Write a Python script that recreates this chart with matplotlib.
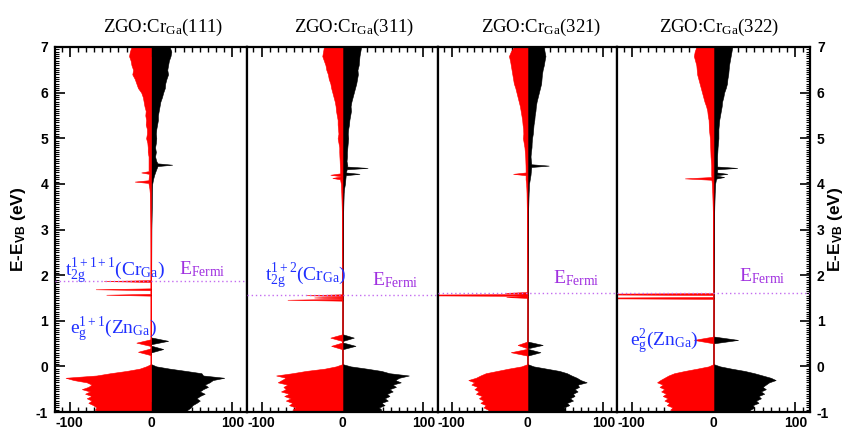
import numpy as np
import matplotlib
matplotlib.use("Agg")
import matplotlib.pyplot as plt
from matplotlib.ticker import MultipleLocator

plt.rcParams['font.family'] = ['Liberation Sans', 'DejaVu Sans']
plt.rcParams['axes.unicode_minus'] = False
plt.rcParams['mathtext.fontset'] = 'custom'
plt.rcParams['mathtext.rm'] = 'Liberation Serif'
plt.rcParams['mathtext.it'] = 'Liberation Serif:italic'
plt.rcParams['mathtext.bf'] = 'Liberation Sans:bold'

# panel names and fermi levels (eV)
panels = ["111", "311", "321", "322"]
e_fermi = [1.87, 1.56, 1.60, 1.60]

# energy grid, valence band top and upper band region
e_vb = [-1.0, -0.95, -0.9, -0.85, -0.8, -0.75, -0.7, -0.65, -0.6, -0.55, -0.5,
        -0.45, -0.4, -0.35, -0.3, -0.25, -0.2, -0.15, -0.1, -0.05, 0.0, 0.05]
e_cb = [3.0, 3.5, 3.8, 3.9, 4.0, 4.1, 4.2, 4.3, 4.4, 4.5, 4.6, 4.7, 4.8, 4.9,
        5.0, 5.1, 5.2, 5.3, 5.4, 5.5, 5.6, 5.7, 5.8, 5.9, 6.0, 6.1, 6.2, 6.3,
        6.4, 6.5, 6.6, 6.7, 6.8, 6.9, 7.0]

# spin up (black, positive)
vb_up_111 = [43, 45, 49, 51, 56, 60, 56, 60, 66, 60, 64, 70, 66, 72, 76, 90, 64, 62, 43, 23, 6.5, 0]
vb_up_311 = [42, 48, 45, 52, 48, 56, 52, 58, 55, 62, 58, 66, 62, 72, 65, 70, 82, 58, 48, 30, 10, 0]
vb_up_321 = [45, 50, 48, 55, 52, 60, 56, 62, 60, 66, 62, 68, 66, 78, 70, 65, 58, 52, 42, 25, 8, 0]
vb_up_322 = [42, 45, 50, 48, 55, 52, 58, 55, 62, 58, 64, 60, 64, 68, 76, 70, 60, 50, 38, 22, 8, 0]

cb_up_111 = [0.5, 1, 1.2, 1.3, 1.5, 2.5, 4, 6, 8, 6.5, 5, 6, 5, 6, 6.5, 6, 6.5, 7.5,
             8.5, 8.5, 9.5, 10.5, 11.5, 13.5, 15, 17, 17.5, 19, 21, 20, 21, 22, 24, 25, 23]
cb_up_311 = [0.5, 1, 1.5, 2, 3, 3.5, 4, 5, 6, 5, 5.5, 5.5, 6, 6.5, 7, 6.5, 7, 8,
             8.5, 9.5, 10.5, 10, 11, 12.5, 14, 15.5, 17, 18, 19, 18.5, 20, 20.5, 21, 22, 23]
cb_up_321 = [0.5, 1, 1.5, 1.8, 2, 3, 4, 4.5, 5, 4.5, 4, 4.5, 5.3, 5.5, 6, 7, 7.5, 8,
             9, 9.5, 10.5, 11, 12, 13.5, 15, 16.5, 18, 18.5, 19, 20, 21.5, 22.5, 23.7, 22.5, 21.5]
cb_up_322 = [0.5, 1, 1.5, 1.8, 2, 3, 4, 4.5, 4.5, 4.4, 4.4, 4.7, 5, 5.5, 6, 6, 6, 6.5,
             7, 8, 9, 10, 10.5, 12, 13, 15, 16.5, 17, 18, 18.5, 19, 20, 21, 22, 23]

# spin down (red, negative)
vb_dn_111 = [-63, -69, -67, -71, -77, -73, -79, -73, -81, -75, -85, -77, -73, -79, -95, -105, -67, -50, -30, -14, -6, 0]
vb_dn_311 = [-55, -62, -58, -66, -62, -70, -64, -72, -66, -76, -70, -73, -68, -80, -75, -70, -82, -62, -45, -22, -8, 0]
vb_dn_321 = [-50, -52, -58, -55, -62, -58, -64, -60, -68, -64, -70, -66, -74, -70, -78, -68, -62, -55, -40, -25, -8, 0]
vb_dn_322 = [-48, -53, -50, -57, -54, -60, -56, -62, -58, -64, -60, -66, -62, -69, -65, -60, -55, -48, -35, -20, -6, 0]

cb_dn_111 = [-0.5, -1, -1.5, -2, -3, -3, -2.5, -3, -3, -3, -3, -4, -4, -4.5, -6, -5, -5, -6.5,
             -6, -7, -6.5, -8, -9, -10, -12, -16, -18, -20, -23, -22, -24, -25, -27, -26, -24]
cb_dn_311 = [-0.5, -1, -1.5, -1.8, -2, -3, -3, -3, -3.3, -3.5, -3.8, -4, -4, -5, -6, -5, -5.5, -6,
             -6, -7, -8, -8.5, -9.5, -11, -12.5, -14, -15, -17, -18, -20, -21, -23, -25, -24, -23]
cb_dn_321 = [-0.5, -1, -1.3, -1.5, -1.8, -2.5, -2.5, -2.5, -2.6, -2.8, -3, -3.5, -4, -5, -6, -5.5, -5.7, -6.5,
             -7, -8, -9, -10, -11.5, -13, -14.5, -16, -18, -19, -20, -21, -22, -23, -24.5, -22, -18]
cb_dn_322 = [-0.5, -1, -1.5, -1.8, -2, -2.5, -2.8, -2.8, -2.8, -3.2, -3.6, -3.8, -4, -4.2, -4.4, -5, -5.6, -5.8,
             -6, -7, -7.6, -9, -11, -12.5, -14, -15.5, -17, -18.5, -20, -20.5, -21, -22.5, -24, -23, -21]

# sharp peaks (energy, dos)
peaks_up_111 = [(0.56, 21), (0.38, 15), (4.42, 26)]
peaks_up_311 = [(0.63, 14), (0.45, 16), (4.35, 31), (4.22, 21)]
peaks_up_321 = [(0.47, 20), (0.31, 17), (4.40, 28)]
peaks_up_322 = [(0.58, 30), (4.35, 29), (4.22, 17), (4.15, 13)]

peaks_dn_111 = [(0.52, -18), (0.32, -16), (1.87, -58), (1.69, -68), (1.57, -55), (4.25, -12), (4.05, -20)]
peaks_dn_311 = [(0.63, -15), (0.45, -14), (1.56, -45), (1.51, -35), (1.46, -68), (4.20, -15), (4.13, -12.5)]
peaks_dn_321 = [(0.47, -13), (0.31, -22), (1.61, -30), (1.565, -250), (1.52, -28), (4.22, -19)]
peaks_dn_322 = [(0.58, -24), (1.585, -250), (1.50, -250), (4.12, -35)]

# annotation text per panel
state_labels = [
    [(-106, 2.0, r"$\mathrm{t}_{\mathrm{2g}}^{\mathrm{1+1+1}}$(Cr$_{\mathrm{Ga}}$)"),
     (-100, 0.72, r"$\mathrm{e}_{\mathrm{g}}^{\mathrm{1+1}}$(Zn$_{\mathrm{Ga}}$)")],
    [(-96, 1.87, r"$\mathrm{t}_{\mathrm{2g}}^{\mathrm{1+2}}$(Cr$_{\mathrm{Ga}}$)")],
    [],
    [(-102, 0.46, r"$\mathrm{e}_{\mathrm{g}}^{\mathrm{2}}$(Zn$_{\mathrm{Ga}}$)")],
]
fermi_label_pos = [(35, 2.01), (37, 1.78), (34, 1.82), (31, 1.87)]

x_ticks = [-100, 0, 100]
x_tick_labels = ["-100", "0", "100"]
y_ticks = [-1, 0, 1, 2, 3, 4, 5, 6, 7]
y_tick_labels = ["-1", "0", "1", "2", "3", "4", "5", "6", "7"]


def build(e_bg, v_bg, peaks):
    e_bg = np.asarray(e_bg, dtype=float)
    v_bg = np.asarray(v_bg, dtype=float)
    keep = np.ones(len(e_bg), dtype=bool)
    ee, vv = [], []
    for c, h in peaks:
        if c < 1:
            hw = 0.075
        elif c < 3:
            hw = 0.02
        else:
            hw = 0.03
        keep &= ~(np.abs(e_bg - c) < hw)
        base = v_bg[np.argmin(np.abs(e_bg - c))] if c > 3 else 0.0
        ee += [c - hw, c, c + hw]
        vv += [base, h, base]
    e = np.concatenate([e_bg[keep], ee])
    v = np.concatenate([v_bg[keep], vv])
    order = np.argsort(e, kind="stable")
    return e[order], v[order]


up_data = [(vb_up_111, cb_up_111, peaks_up_111), (vb_up_311, cb_up_311, peaks_up_311),
           (vb_up_321, cb_up_321, peaks_up_321), (vb_up_322, cb_up_322, peaks_up_322)]
dn_data = [(vb_dn_111, cb_dn_111, peaks_dn_111), (vb_dn_311, cb_dn_311, peaks_dn_311),
           (vb_dn_321, cb_dn_321, peaks_dn_321), (vb_dn_322, cb_dn_322, peaks_dn_322)]

fig = plt.figure(figsize=(8.44, 4.29), dpi=100)
gs = fig.add_gridspec(1, 4, width_ratios=[192, 191, 179, 193], left=55 / 844, right=810 / 844,
                      top=1 - 47 / 429, bottom=1 - 412 / 429, wspace=0)
title_x = [0.565, 0.56, 0.575, 0.528]

e_all = e_vb + e_cb
for i in range(4):
    ax = fig.add_subplot(gs[0, i])
    vb, cb, pk = up_data[i]
    eu, du = build(e_all, vb + cb, pk)
    vb, cb, pk = dn_data[i]
    ed, dd = build(e_all, vb + cb, pk)

    ax.axvline(0, color="#ff7070", lw=1.3, zorder=1)
    ax.fill_betweenx(eu, 0, du, color="black", lw=0.4, zorder=2)
    ax.fill_betweenx(ed, 0, dd, color="red", lw=0.4, zorder=2)
    ax.axhline(e_fermi[i], color="#c46cf0", ls=(0, (1, 2)), lw=1.0, zorder=3)

    ax.set_xlim(-118, 118)
    ax.set_ylim(-1, 7)
    ax.set_xticks(x_ticks)
    ax.set_xticklabels(x_tick_labels, fontweight="bold", fontsize=10)
    ax.xaxis.set_minor_locator(MultipleLocator(10))
    ax.tick_params(axis="x", which="both", direction="in", top=True, bottom=True)
    ax.tick_params(axis="x", which="major", length=7, width=1.2, pad=3)
    ax.tick_params(axis="x", which="minor", length=3.5, width=1)
    ax.tick_params(axis="y", which="both", left=False, right=False, labelleft=False, labelright=False)
    for sp in ax.spines.values():
        sp.set_linewidth(1.6)

    ax.set_title("ZGO:Cr$_{\\mathrm{Ga}}$(" + panels[i] + ")", fontfamily="Liberation Serif",
                 fontsize=13.5, x=title_x[i], pad=10.8)

    for tx, ty, s in state_labels[i]:
        ax.text(tx, ty, s, color="#2030ff", fontsize=14, fontfamily="Liberation Serif",
                ha="left", va="baseline", zorder=4)
    fx, fy = fermi_label_pos[i]
    ax.text(fx, fy, r"$\mathrm{E}_{\mathrm{Fermi}}$", color="#a030e0", fontsize=14,
            ha="left", va="baseline", zorder=4)

    if i == 0 or i == 3:
        ax.set_yticks(y_ticks)
        ax.set_yticklabels(y_tick_labels, fontweight="bold", fontsize=10)
        ax.yaxis.set_minor_locator(MultipleLocator(0.05))
        ax.set_ylabel(r"E-E$_{\mathbf{VB}}$ (eV)", fontweight="bold", fontsize=12.5)
    if i == 0:
        ax.tick_params(axis="y", which="both", direction="in", left=True, labelleft=True)
        ax.tick_params(axis="y", which="major", length=7, width=1.2, pad=5)
        ax.tick_params(axis="y", which="minor", length=3, width=0.8)
        ax.yaxis.set_label_coords(-0.14, 0.5)
    if i == 3:
        ax.yaxis.set_label_position("right")
        ax.tick_params(axis="y", which="both", direction="in", right=True, labelright=True)
        ax.tick_params(axis="y", which="major", length=7, width=1.2, pad=5)
        ax.tick_params(axis="y", which="minor", length=3, width=0.8)
        ax.yaxis.set_label_coords(1.083, 0.5)

plt.savefig("out.png", dpi=100)
